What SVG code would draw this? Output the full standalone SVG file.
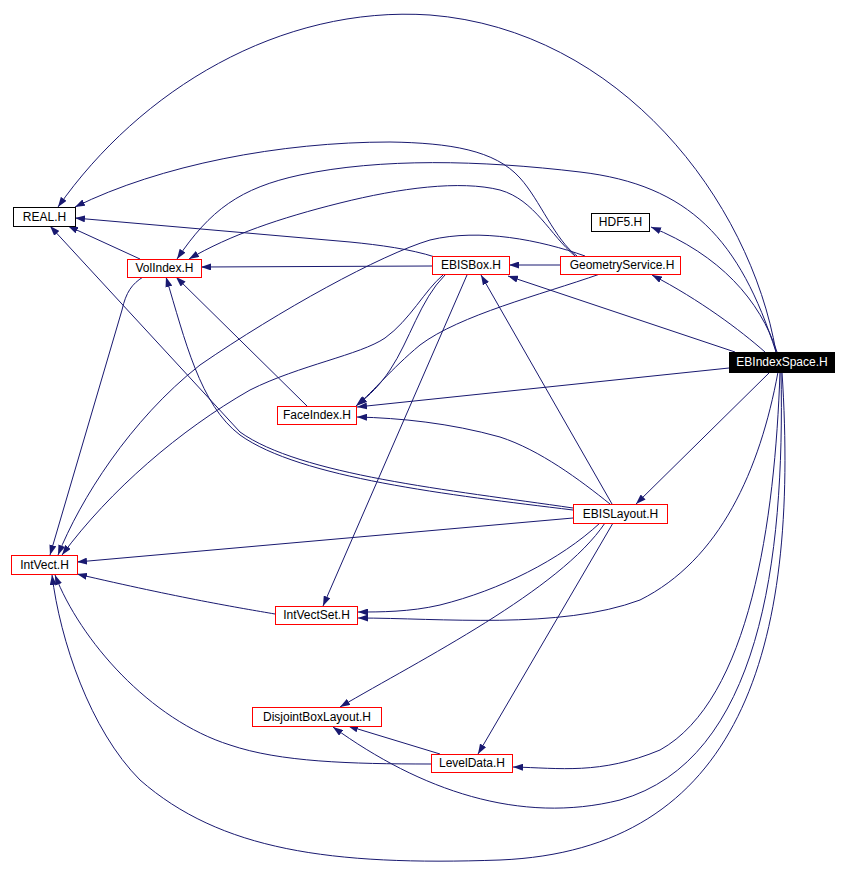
<svg xmlns="http://www.w3.org/2000/svg" width="848" height="889" viewBox="0 0 848 889">
<style>
.e{fill:none;stroke:#191970;stroke-width:1;marker-end:url(#a)}
.n rect{fill:#fff;stroke:#f00;stroke-width:1}
.n.b rect{stroke:#000}
.n.r rect{fill:#000;stroke:#000}
.n text{font-family:"Liberation Sans",Arial,sans-serif;font-size:12px;text-anchor:middle;fill:#000}
.n.r text{fill:#fff}
</style>
<defs>
<marker id="a" viewBox="0 0 10 7" refX="10" refY="3.5" markerWidth="10" markerHeight="7" markerUnits="userSpaceOnUse" orient="auto">
<path d="M0,0 L10,3.5 L0,7 z" fill="#191970"/>
</marker>
</defs>
<rect width="848" height="889" fill="#fff"/>
<g id="edges">
<path class="e" d="M776,352 C750,200 620,30 430,15 C280,5 140,90 58,207"/>
<path class="e" d="M777,352 C760,300 720,255 651,227"/>
<path class="e" d="M765,352 C740,330 700,300 652,275"/>
<path class="e" d="M735,352 L508,276"/>
<path class="e" d="M776,352 C740,240 690,185 580,172 C480,160 380,158 300,175 C240,188 210,210 177,259"/>
<path class="e" d="M729,368 L357,407"/>
<path class="e" d="M770,372 L636,504"/>
<path class="e" d="M778,372 C760,470 720,560 640,600 C560,630 440,618 358,618"/>
<path class="e" d="M780,372 C775,520 750,700 660,750 C600,775 560,768 513,767"/>
<path class="e" d="M781,372 C785,560 760,760 620,800 C520,825 420,790 333,727"/>
<path class="e" d="M782,372 C800,650 740,850 500,860 C330,866 220,850 140,780 C90,730 60,640 52,575"/>
<path class="e" d="M577,256 C555,240 540,200 520,178 C495,150 450,143 390,142 C280,142 160,165 75,207"/>
<path class="e" d="M575,256 C550,235 535,200 500,190 C460,180 400,188 340,203 C280,218 230,235 189,259"/>
<path class="e" d="M560,265 L509,265"/>
<path class="e" d="M600,274 C540,295 460,315 420,345 C390,370 375,390 356,406"/>
<path class="e" d="M585,256 C540,240 480,228 430,240 C380,255 280,310 200,365 C130,420 80,500 58,555"/>
<path class="e" d="M435,257 C410,249 380,245 350,242 L75,218"/>
<path class="e" d="M432,266 L201,267"/>
<path class="e" d="M445,275 C420,300 410,340 390,370 C380,385 370,395 357,405"/>
<path class="e" d="M443,275 C425,290 410,320 385,338 C360,355 300,365 250,390 C180,430 110,490 62,555"/>
<path class="e" d="M467,275 L323,606"/>
<path class="e" d="M140,259 L68,226"/>
<path class="e" d="M143,277 C132,284 126,292 122,310 L50,555"/>
<path class="e" d="M307,406 L176,277"/>
<path class="e" d="M573,508 C450,490 300,475 240,432 L50,226"/>
<path class="e" d="M573,510 C450,495 300,478 240,435 C200,405 185,340 166,277"/>
<path class="e" d="M610,504 C580,480 540,450 500,437 C450,423 400,418 357,417"/>
<path class="e" d="M612,504 L481,275"/>
<path class="e" d="M573,518 L77,562"/>
<path class="e" d="M600,523 C560,560 500,590 440,605 C410,612 380,612 358,612"/>
<path class="e" d="M605,523 C560,590 420,660 340,707"/>
<path class="e" d="M613,523 L478,754"/>
<path class="e" d="M275,614 C240,608 180,598 77,574"/>
<path class="e" d="M440,754 L348,726"/>
<path class="e" d="M431,764 C350,764 280,762 230,745 C150,720 80,640 55,575"/>
</g>
<g id="n_real" class="n b"><rect x="13.5" y="207.5" width="62" height="19"/><text x="44.5" y="220.5">REAL.H</text></g>
<g id="n_volindex" class="n"><rect x="127.5" y="259.5" width="74" height="18"/><text x="164.5" y="272">VolIndex.H</text></g>
<g id="n_ebisbox" class="n"><rect x="432.5" y="256.5" width="77" height="18"/><text x="471" y="269">EBISBox.H</text></g>
<g id="n_geometryservice" class="n"><rect x="560.5" y="256.5" width="120" height="18"/><text x="622" y="269">GeometryService.H</text></g>
<g id="n_hdf5" class="n b"><rect x="591.5" y="213.5" width="58" height="18"/><text x="620.5" y="226">HDF5.H</text></g>
<g id="n_ebindexspace" class="n r"><rect x="729.5" y="352.5" width="105" height="20"/><text x="782" y="366">EBIndexSpace.H</text></g>
<g id="n_faceindex" class="n"><rect x="277.5" y="406.5" width="79" height="18"/><text x="317" y="419">FaceIndex.H</text></g>
<g id="n_intvect" class="n"><rect x="11.5" y="555.5" width="66" height="19"/><text x="44.5" y="568.5">IntVect.H</text></g>
<g id="n_ebislayout" class="n"><rect x="573.5" y="504.5" width="94" height="19"/><text x="620.5" y="517.5">EBISLayout.H</text></g>
<g id="n_intvectset" class="n"><rect x="275.5" y="606.5" width="82" height="18"/><text x="316.5" y="619">IntVectSet.H</text></g>
<g id="n_disjointboxlayout" class="n"><rect x="252.5" y="707.5" width="129" height="19"/><text x="317" y="720.5">DisjointBoxLayout.H</text></g>
<g id="n_leveldata" class="n"><rect x="431.5" y="754.5" width="81" height="18"/><text x="472" y="767">LevelData.H</text></g>
</svg>
